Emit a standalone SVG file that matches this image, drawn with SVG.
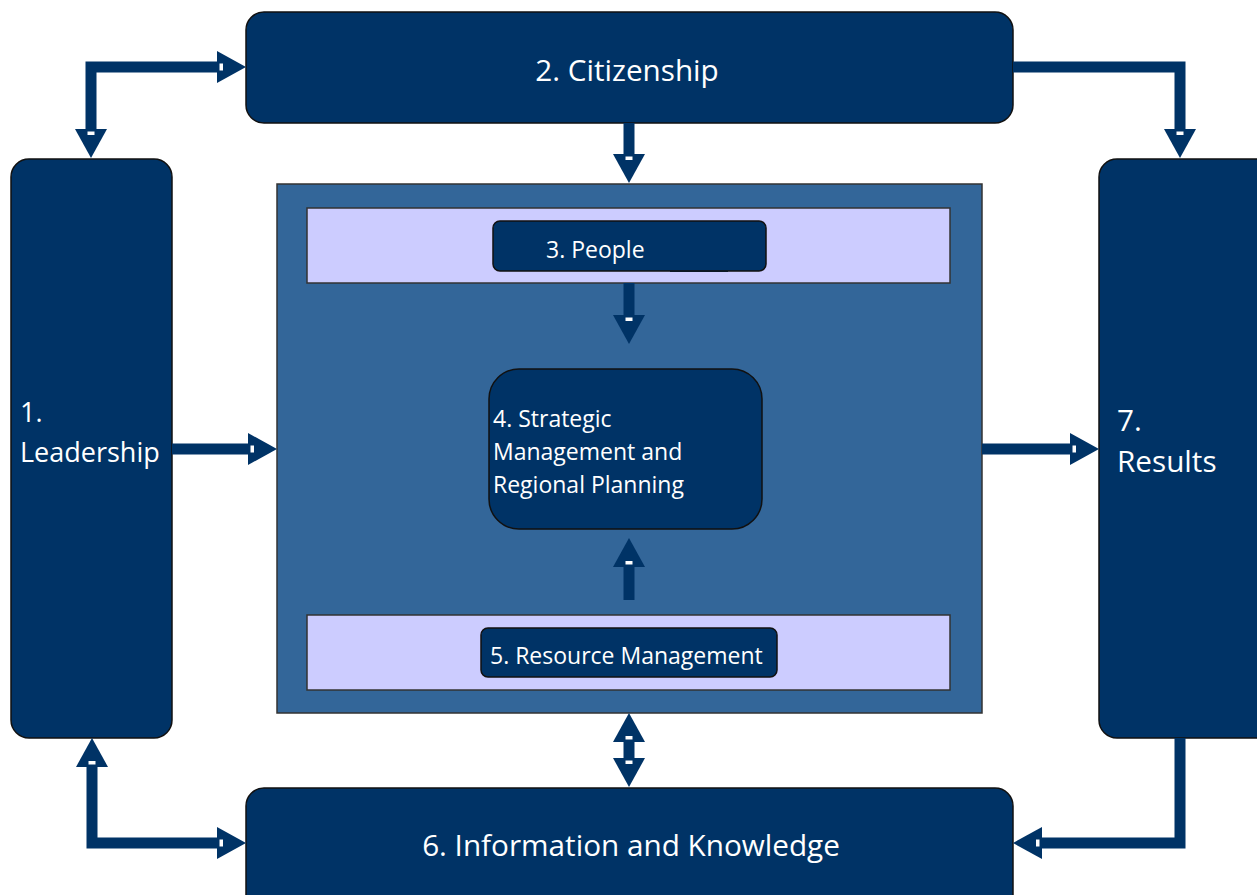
<svg xmlns="http://www.w3.org/2000/svg" width="1257" height="895" viewBox="0 0 1257 895">
<style>
.nav{fill:#003366;stroke:#111;stroke-width:1.5}
.cont{fill:#336699;stroke:#333;stroke-width:1.5}
.strip{fill:#ccccff;stroke:#333;stroke-width:1.5}
.t{fill:#fff;font-family:"Open Sans","Liberation Sans",sans-serif}
.big{font-size:29.7px}
.med{font-size:27px}
.sm{font-size:23px}
.conn path{fill:none;stroke:#003366;stroke-width:11;stroke-linejoin:miter;stroke-linecap:butt}
</style>
<defs>
<marker id="ah" markerUnits="userSpaceOnUse" viewBox="0 0 29 32" refX="0" refY="16" markerWidth="29" markerHeight="32" orient="auto-start-reverse">
<polygon points="0,0 29,16 0,32" fill="#003366"/>
<rect x="2.5" y="12.5" width="3.5" height="7" fill="#fff"/>
</marker>
</defs>
<rect width="1257" height="895" fill="#fff"/>

<g id="n2-citizenship">
<rect class="nav" x="246" y="12" width="767" height="111" rx="18"/>
<text class="t big" x="627" y="81" text-anchor="middle">2. Citizenship</text>
</g>
<g id="n1-leadership">
<rect class="nav" x="11" y="159" width="161" height="579" rx="18"/>
<text class="t med" x="20" y="422">1.</text>
<text class="t med" x="20" y="462">Leadership</text>
</g>
<g id="n7-results">
<rect class="nav" x="1099" y="159" width="175" height="579" rx="18"/>
<text class="t big" x="1117" y="431">7.</text>
<text class="t big" x="1117" y="472">Results</text>
</g>
<g id="n6-information">
<rect class="nav" x="246" y="788" width="767" height="130" rx="18"/>
<text class="t big" x="631" y="856" text-anchor="middle">6. Information and Knowledge</text>
</g>
<g id="container">
<rect class="cont" x="277" y="184" width="705" height="529"/>
</g>
<g id="n3-people">
<rect class="strip" x="307" y="208" width="643" height="75"/>
<rect x="670" y="262" width="58" height="10" fill="#003366"/>
<rect class="nav" x="493" y="221" width="273" height="50" rx="7"/>
<text class="t sm" x="546" y="258">3. People</text>
</g>
<g id="n4-strategic">
<rect class="nav" x="489" y="369" width="273" height="160" rx="30"/>
<text class="t sm" x="493" y="427">4. Strategic</text>
<text class="t sm" x="493" y="460">Management and</text>
<text class="t sm" x="493" y="493">Regional Planning</text>
</g>
<g id="n5-resource">
<rect class="strip" x="307" y="615" width="643" height="75"/>
<rect class="nav" x="481" y="628" width="296" height="49" rx="7"/>
<text class="t sm" x="490" y="664">5. Resource Management</text>
</g>

<g id="connectors" class="conn">
<path d="M91,129 V67 H217" marker-start="url(#ah)" marker-end="url(#ah)"/>
<path d="M629,123 V154" marker-end="url(#ah)"/>
<path d="M1013,67 H1180 V129" marker-end="url(#ah)"/>
<path d="M172,449 H248" marker-end="url(#ah)"/>
<path d="M982,449 H1070" marker-end="url(#ah)"/>
<path d="M629,283 V315" marker-end="url(#ah)"/>
<path d="M629,600 V567" marker-end="url(#ah)"/>
<path d="M629,742 V758" marker-start="url(#ah)" marker-end="url(#ah)"/>
<path d="M217,843 H92 V767" marker-start="url(#ah)" marker-end="url(#ah)"/>
<path d="M1180,738 V843 H1042" marker-end="url(#ah)"/>
</g>
</svg>
